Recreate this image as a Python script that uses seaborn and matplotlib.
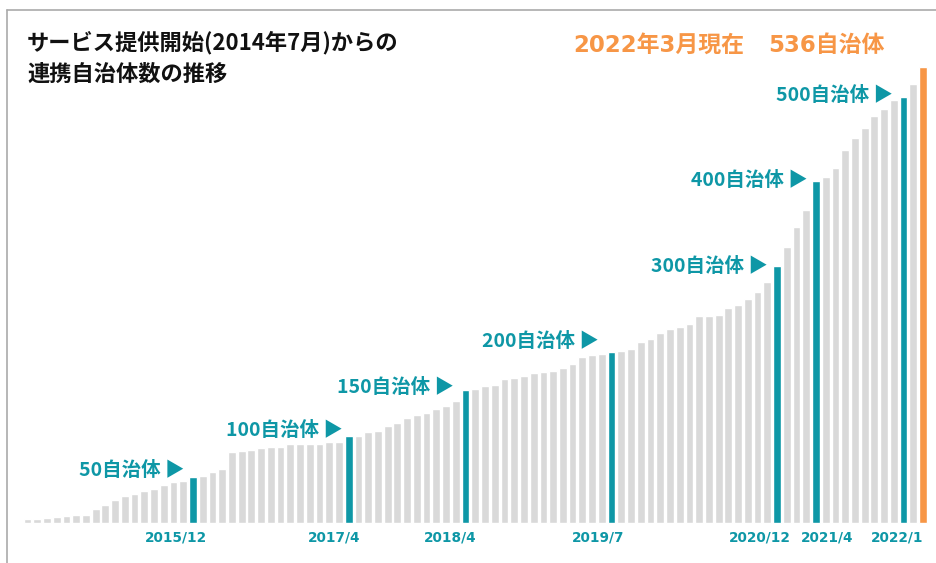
import matplotlib
matplotlib.use("Agg")
import matplotlib.pyplot as plt
from matplotlib.lines import Line2D
import seaborn as sns
import pandas as pd

# ---- data ----
months = [f"{p.year}/{p.month}" for p in pd.period_range("2014-07", "2022-03", freq="M")]
counts = [5, 5, 6, 7, 9, 10, 10, 17, 21, 27, 32, 34, 38, 40, 45, 49, 50, 54, 56, 60,
          64, 84, 85, 86, 89, 90, 90, 93, 93, 93, 93, 96, 96, 103, 103, 107, 108, 114,
          118, 124, 127, 129, 134, 138, 144, 157, 158, 161, 163, 169, 171, 173, 176,
          178, 179, 183, 187, 195, 198, 199, 201, 202, 205, 213, 217, 223, 228, 231,
          234, 243, 244, 245, 253, 257, 263, 272, 283, 302, 325, 348, 368, 402, 407,
          417, 438, 453, 464, 478, 487, 497, 501, 516, 536]
milestone_months = ["2015/12", "2017/4", "2018/4", "2019/7", "2020/12", "2021/4", "2022/1"]
milestone_labels = ["50自治体", "100自治体", "150自治体", "200自治体", "300自治体", "400自治体", "500自治体"]
current_month = "2022/3"
title_lines = ["サービス提供開始(2014年7月)からの", "連携自治体数の推移"]
current_date_text = "2022年3月現在"
current_count_text = "536自治体"

# ---- layout constants (pixels) ----
label_dx_px = [-17, -15, -15, -13, -17, 11, -6]   # tick label offset from bar centre
annot_dy_px = [7, 5, 2, 11, 0, 1, 1]               # annotation offset above bar top
annot_gap_px = [5, 2, 8, 9, 5, 4, 7]               # gap between annotation and bar

GRAY = "#D9D9D9"
TEAL = "#0E97A6"
ORANGE = "#F79646"

kind = []
for m in months:
    if m == current_month:
        kind.append("current")
    elif m in milestone_months:
        kind.append("milestone")
    else:
        kind.append("normal")
df = pd.DataFrame({"month": months, "count": counts, "kind": kind})

sns.set_theme(style="white")
plt.rcParams["font.family"] = ["Noto Sans CJK JP", "DejaVu Sans"]
WIDE = ["DejaVu Sans", "Noto Sans CJK JP"]

W, H = 936, 563
fig = plt.figure(figsize=(W / 100, H / 100), dpi=100)
ax = fig.add_axes([0, 0, 1, 1])

sns.barplot(data=df, x="month", y="count", hue="kind",
            palette={"normal": GRAY, "milestone": TEAL, "current": ORANGE},
            dodge=False, width=0.8, legend=False, ax=ax, saturation=1)

# pixel mapping: bar i centre at x = 27.5 + 9.734 i ; baseline at 523.3 px from top
px_per_bar = 9.734
x0 = 27.5
px_per_unit = 0.8513
base_from_bottom = H - 523.3
ax.set_xlim(-x0 / px_per_bar, (W - x0) / px_per_bar)
ax.set_ylim(-base_from_bottom / px_per_unit, (H - base_from_bottom) / px_per_unit)
ax.set_axis_off()

# tick labels
for m, dx in zip(milestone_months, label_dx_px):
    i = months.index(m)
    ax.text(i + dx / px_per_bar, -16.5, m, ha="center", va="center",
            fontsize=9.8, fontweight="bold", color=TEAL, family=WIDE)

# milestone annotations
for m, lab, dy, gap in zip(milestone_months, milestone_labels, annot_dy_px, annot_gap_px):
    i = months.index(m)
    v = counts[i]
    ax.text(i - 0.4 - gap / px_per_bar, v + dy / px_per_unit, lab + " ▶",
            ha="right", va="center", fontsize=14, fontweight="bold", color=TEAL)

# title
fig.text(27 / W, 1 - 43 / H, title_lines[0], ha="left", va="center",
         fontsize=16, fontweight="bold", color="#111111")
fig.text(27 / W, 1 - 74 / H, title_lines[1], ha="left", va="center",
         fontsize=16, fontweight="bold", color="#111111")

# current total
fig.text(573 / W, 1 - 45 / H, current_date_text, ha="left", va="center",
         fontsize=16.5, fontweight="bold", color=ORANGE, family=WIDE)
fig.text(885 / W, 1 - 45 / H, current_count_text, ha="right", va="center",
         fontsize=16.5, fontweight="bold", color=ORANGE, family=WIDE)

# frame (top and left)
fig.add_artist(Line2D([7.5 / W, 1], [1 - 10 / H, 1 - 10 / H], color="#AAAAAA", lw=1.2))
fig.add_artist(Line2D([7.5 / W, 7.5 / W], [0, 1 - 10 / H], color="#AAAAAA", lw=1.2))

fig.savefig("out.png", dpi=100, facecolor="white")
